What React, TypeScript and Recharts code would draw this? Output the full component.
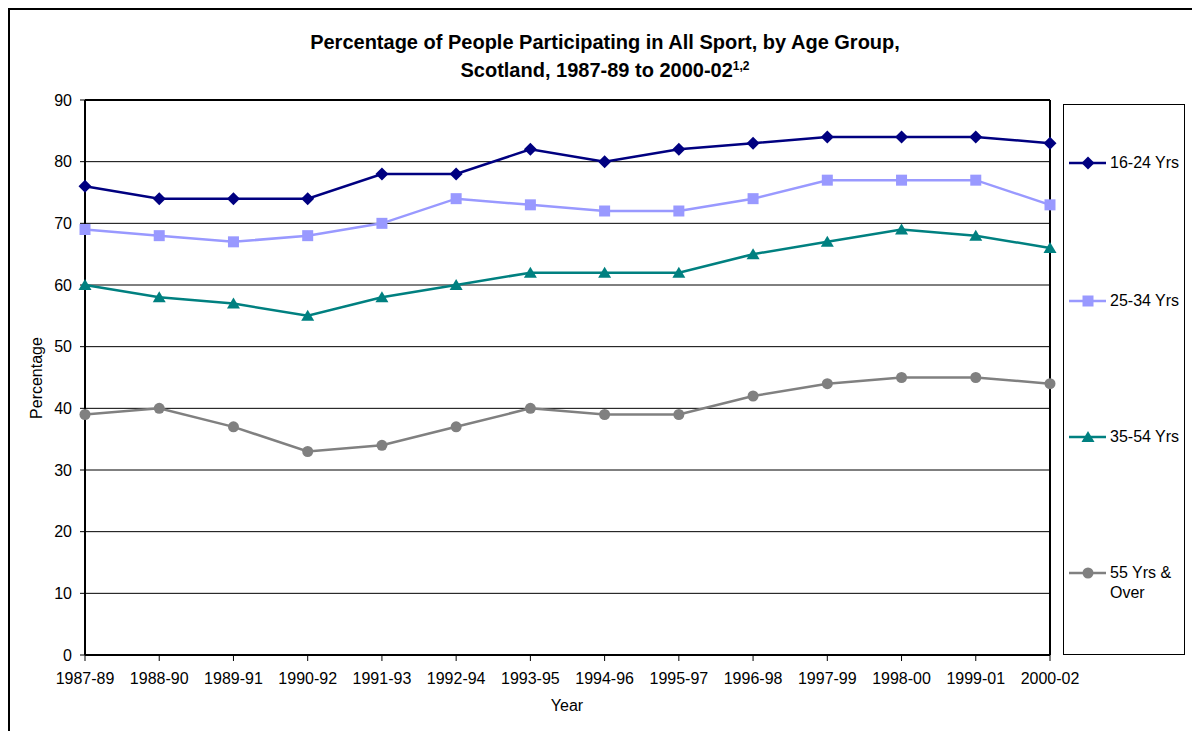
import { LineChart, Line, XAxis, YAxis, CartesianGrid, ReferenceLine } from "recharts";

const years = [
  "1987-89", "1988-90", "1989-91", "1990-92", "1991-93", "1992-94", "1993-95",
  "1994-96", "1995-97", "1996-98", "1997-99", "1998-00", "1999-01", "2000-02",
];
const age16to24 = [76, 74, 74, 74, 78, 78, 82, 80, 82, 83, 84, 84, 84, 83];
const age25to34 = [69, 68, 67, 68, 70, 74, 73, 72, 72, 74, 77, 77, 77, 73];
const age35to54 = [60, 58, 57, 55, 58, 60, 62, 62, 62, 65, 67, 69, 68, 66];
const age55plus = [39, 40, 37, 33, 34, 37, 40, 39, 39, 42, 44, 45, 45, 44];
const yTicks = [0, 10, 20, 30, 40, 50, 60, 70, 80, 90];

const data = years.map((year, i) => ({
  year,
  a: age16to24[i],
  b: age25to34[i],
  c: age35to54[i],
  d: age55plus[i],
}));

type Shape = "diamond" | "square" | "triangle" | "circle";

const series: { key: string; name: string[]; color: string; shape: Shape; legendY: number }[] = [
  { key: "a", name: ["16-24 Yrs"], color: "#000080", shape: "diamond", legendY: 163 },
  { key: "b", name: ["25-34 Yrs"], color: "#9999FF", shape: "square", legendY: 301 },
  { key: "c", name: ["35-54 Yrs"], color: "#008080", shape: "triangle", legendY: 437 },
  { key: "d", name: ["55 Yrs &", "Over"], color: "#808080", shape: "circle", legendY: 573 },
];

const marker = (shape: Shape, cx: number, cy: number, color: string, key?: any) => {
  if (shape === "diamond")
    return <path key={key} d={`M${cx},${cy - 6.5}L${cx + 6.5},${cy}L${cx},${cy + 6.5}L${cx - 6.5},${cy}Z`} fill={color} />;
  if (shape === "square")
    return <rect key={key} x={cx - 5.5} y={cy - 5.5} width={11} height={11} fill={color} />;
  if (shape === "triangle")
    return <path key={key} d={`M${cx},${cy - 6}L${cx + 6.5},${cy + 5}L${cx - 6.5},${cy + 5}Z`} fill={color} />;
  return <circle key={key} cx={cx} cy={cy} r={5.5} fill={color} />;
};

const dotFor = (shape: Shape, color: string) => (props: any) => {
  const { cx, cy, index } = props;
  if (cx == null || cy == null) return <g key={index} />;
  return marker(shape, cx, cy, color, index);
};

const font = "Arial, 'Liberation Sans', sans-serif";

export default function App() {
  return (
    <div
      style={{
        position: "absolute",
        left: 0,
        top: 0,
        width: 1192,
        height: 731,
        overflow: "hidden",
        background: "#fff",
        fontFamily: font,
      }}
    >
      {/* outer frame, runs off the right and bottom edges */}
      <div
        style={{
          position: "absolute",
          left: 8,
          top: 8,
          width: 1300,
          height: 900,
          border: "2px solid #000",
          boxSizing: "border-box",
        }}
      />
      <div
        style={{
          position: "absolute",
          left: 0,
          width: 1210,
          top: 28,
          textAlign: "center",
          fontSize: 20,
          fontWeight: "bold",
          lineHeight: "28px",
          color: "#000",
        }}
      >
        Percentage of People Participating in All Sport, by Age Group,
        <br />
        Scotland, 1987-89 to 2000-02
        <sup style={{ fontSize: 12, verticalAlign: "top", position: "relative", top: -4 }}>1,2</sup>
      </div>
      <div style={{ position: "absolute", left: 0, top: 0 }}>
        <LineChart width={1192} height={731} data={data} margin={{ top: 100, right: 142, left: 45, bottom: 46 }}>
          <CartesianGrid vertical={false} stroke="#000" strokeWidth={1} />
          <ReferenceLine y={90} stroke="#000" strokeWidth={2} />
          <ReferenceLine x="2000-02" stroke="#000" strokeWidth={2} />
          <XAxis
            dataKey="year"
            interval={0}
            height={30}
            tickSize={6}
            tickMargin={12}
            axisLine={{ stroke: "#000", strokeWidth: 2 }}
            tickLine={{ stroke: "#000", strokeWidth: 1 }}
            tick={{ fill: "#000", fontSize: 16, fontFamily: font }}
          />
          <YAxis
            domain={[0, 90]}
            ticks={yTicks}
            width={40}
            tickSize={5}
            tickMargin={8}
            axisLine={{ stroke: "#000", strokeWidth: 2 }}
            tickLine={{ stroke: "#000", strokeWidth: 1 }}
            tick={{ fill: "#000", fontSize: 16, fontFamily: font }}
          />
          {series.map((s) => (
            <Line
              key={s.key}
              dataKey={s.key}
              stroke={s.color}
              strokeWidth={2.5}
              dot={dotFor(s.shape, s.color)}
              activeDot={false}
              isAnimationActive={false}
            />
          ))}
        </LineChart>
      </div>
      <div
        style={{
          position: "absolute",
          left: 37,
          top: 378,
          transform: "translate(-50%, -50%) rotate(-90deg)",
          fontSize: 16,
          whiteSpace: "nowrap",
        }}
      >
        Percentage
      </div>
      <div
        style={{
          position: "absolute",
          left: 567,
          top: 706,
          transform: "translate(-50%, -50%)",
          fontSize: 16,
        }}
      >
        Year
      </div>
      {/* legend */}
      <div
        style={{
          position: "absolute",
          left: 1063,
          top: 104,
          width: 122,
          height: 551,
          border: "1.5px solid #000",
          boxSizing: "border-box",
        }}
      />
      {series.map((s) => (
        <div key={s.key}>
          <svg style={{ position: "absolute", left: 1066, top: s.legendY - 10 }} width={44} height={20}>
            <line x1={3} y1={10} x2={40} y2={10} stroke={s.color} strokeWidth={2.5} />
            {marker(s.shape, 22, 10, s.color)}
          </svg>
          <div
            style={{
              position: "absolute",
              left: 1110,
              top: s.legendY - 10,
              fontSize: 16,
              lineHeight: "20px",
              whiteSpace: "nowrap",
            }}
          >
            {s.name.map((n, i) => (
              <div key={i}>{n}</div>
            ))}
          </div>
        </div>
      ))}
    </div>
  );
}
